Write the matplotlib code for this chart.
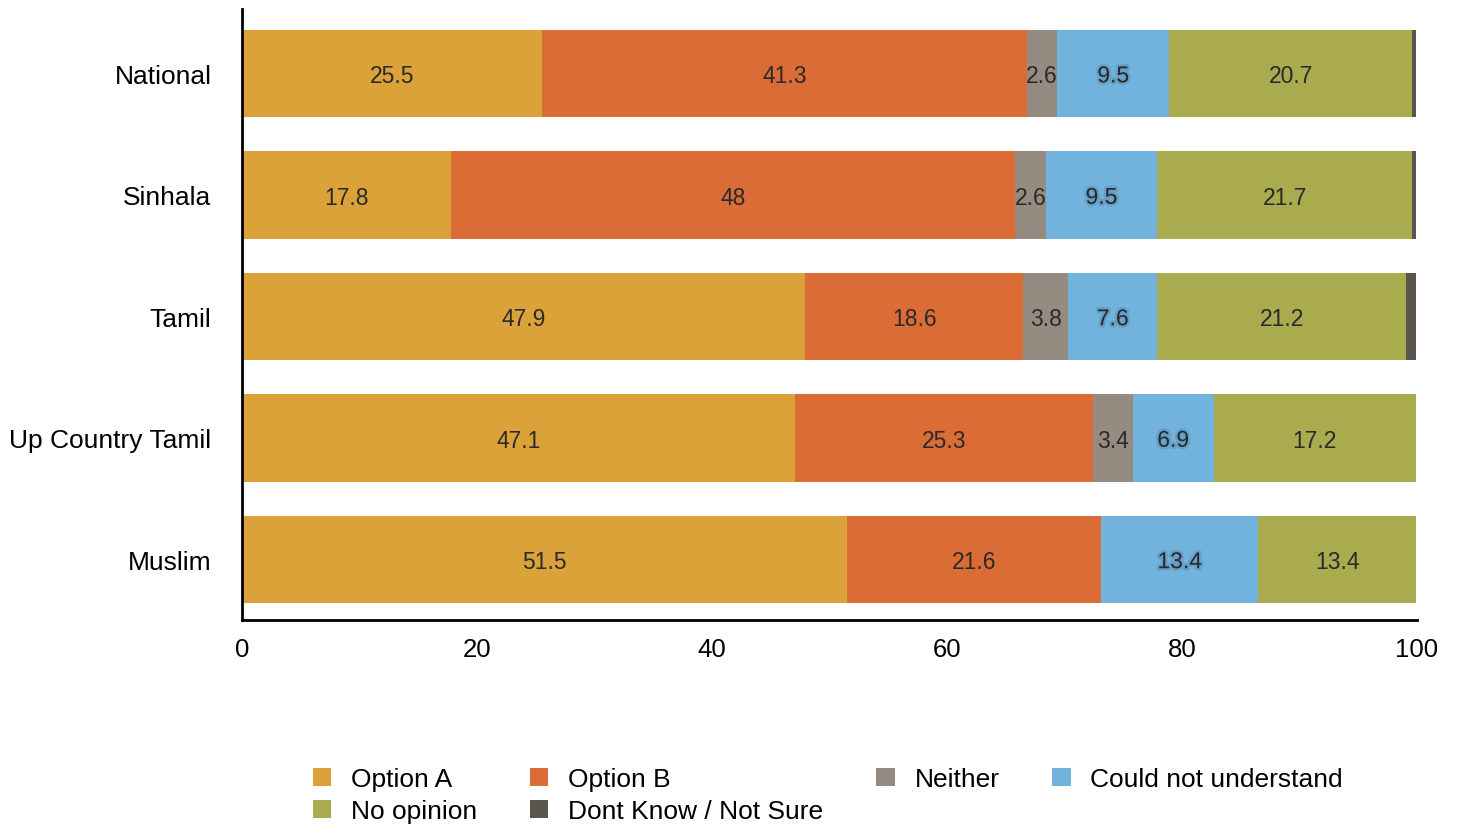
import matplotlib
matplotlib.use("Agg")
import matplotlib.pyplot as plt
import matplotlib.patheffects as pe
import numpy as np

plt.rcParams['font.family'] = ['Liberation Sans', 'DejaVu Sans']

categories = ["National", "Sinhala", "Tamil", "Up Country Tamil", "Muslim"]
series_names = ["Option A", "Option B", "Neither", "Could not understand",
                "No opinion", "Dont Know / Not Sure"]
option_a = [25.5, 17.8, 47.9, 47.1, 51.5]
option_b = [41.3, 48.0, 18.6, 25.3, 21.6]
neither = [2.6, 2.6, 3.8, 3.4, 0.0]
could_not = [9.5, 9.5, 7.6, 6.9, 13.4]
no_opinion = [20.7, 21.7, 21.2, 17.2, 13.4]
dont_know = [0.3, 0.3, 0.8, 0.0, 0.0]
colors = ["#DBA23A", "#DC6C36", "#968B80", "#72B3DE", "#AAAA4F", "#5A564E"]

series = [option_a, option_b, neither, could_not, no_opinion, dont_know]
show_label = [True, True, True, True, True, False]

fig = plt.figure(figsize=(14.59, 8.28), dpi=100)
ax = fig.add_axes([242/1459, 0.25, (1417-242)/1459, (621-10)/828])

y = np.arange(len(categories))
left = np.zeros(len(categories))
handles = []
for name, vals, col, show in zip(series_names, series, colors, show_label):
    vals = np.array(vals)
    b = ax.barh(y, vals, left=left, height=0.72, color=col, label=name)
    handles.append(b)
    if show:
        for yi, (l, v) in enumerate(zip(left, vals)):
            if v > 0:
                t = ax.text(l + v/2, yi + 0.02, f"{v:g}", ha="center", va="center",
                            fontsize=16.5, color="#2a2a2a")
                if col == "#72B3DE":
                    t.set_path_effects([pe.withStroke(linewidth=3.5, foreground="#4f7ea3", alpha=0.35)])
    left = left + vals

ax.set_xlim(0, 100)
ax.set_ylim(4.5, -0.53)
ax.set_yticks(y)
ax.set_yticklabels(categories, fontsize=19)
ax.set_xticks([0, 20, 40, 60, 80, 100])
ax.tick_params(axis="x", labelsize=18.5, length=0, pad=12)
ax.tick_params(axis="y", length=0, pad=22)
for s in ["top", "right"]:
    ax.spines[s].set_visible(False)
for s in ["left", "bottom"]:
    ax.spines[s].set_linewidth(2)
    ax.spines[s].set_color("black")

order = [0, 4, 1, 5, 2, 3]
leg = fig.legend([handles[i] for i in order], [series_names[i] for i in order],
                 ncol=4, loc="center", bbox_to_anchor=(0.5675, 0.0386),
                 frameon=False, fontsize=19, handlelength=0.7, handleheight=0.7,
                 handletextpad=0.75, columnspacing=2.0, labelspacing=0.3)

fig.savefig("out.png", dpi=100)
